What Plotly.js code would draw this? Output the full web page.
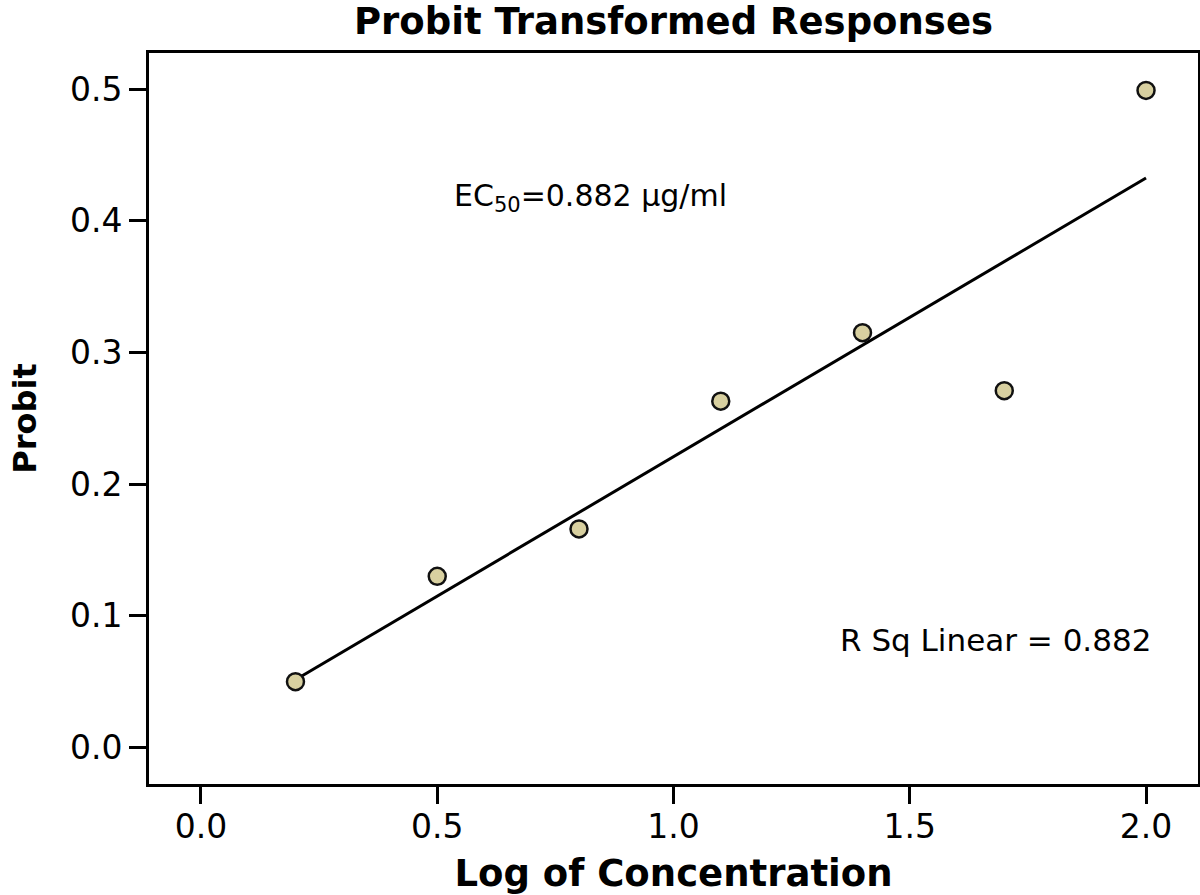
<!DOCTYPE html>
<html>
<head>
<meta charset="utf-8">
<script src="https://cdn.plot.ly/plotly-3.0.1.min.js"></script>
<style>html,body{margin:0;padding:0;background:#fff;}#chart{width:1200px;height:895px;}</style>
</head>
<body>
<div id="chart"></div>
<script>
const logConc = [0.2, 0.5, 0.8, 1.1, 1.4, 1.7, 2.0];
const probit = [0.050, 0.130, 0.166, 0.263, 0.315, 0.271, 0.499];
const xTicks = [0.0, 0.5, 1.0, 1.5, 2.0];
const yTicks = [0.0, 0.1, 0.2, 0.3, 0.4, 0.5];
const ec50Label = 'EC<sub>50</sub>=0.882 µg/ml';
const rsqLabel = 'R Sq Linear = 0.882';

// least-squares fit line computed from the data
const n = logConc.length;
const mx = logConc.reduce((a,b)=>a+b,0)/n;
const my = probit.reduce((a,b)=>a+b,0)/n;
let sxy = 0, sxx = 0;
for (let i=0;i<n;i++){ sxy += (logConc[i]-mx)*(probit[i]-my); sxx += (logConc[i]-mx)**2; }
const slope = sxy/sxx, icpt = my - slope*mx;
const fitX = [Math.min(...logConc), Math.max(...logConc)];
const fitY = fitX.map(x => icpt + slope*x);

const font = 'DejaVu Sans, Liberation Sans, Arial, sans-serif';
const traces = [
  {x: fitX, y: fitY, mode: 'lines', line: {color: '#000', width: 3}, hoverinfo: 'skip', showlegend: false},
  {x: logConc, y: probit, mode: 'markers', showlegend: false,
   marker: {size: 17, color: '#d8d0a0', line: {color: '#111', width: 2.5}}}
];
const axisCommon = {
  showline: true, mirror: true, linecolor: '#000', linewidth: 3,
  ticks: 'outside', ticklen: 17, tickwidth: 3, tickcolor: '#000',
  showgrid: false, zeroline: false,
  tickfont: {family: font, size: 33, color: '#000'}
};
const layout = {
  width: 1200, height: 895,
  margin: {l: 149, r: 2, t: 53, b: 111},
  paper_bgcolor: '#fff', plot_bgcolor: '#fff',
  title: {text: '<b>Probit Transformed Responses</b>', font: {family: font, size: 37, color: '#000'},
          x: 0.5, xref: 'paper', y: 0.977, yanchor: 'middle'},
  xaxis: Object.assign({}, axisCommon, {
    range: [-0.11, 2.11], tickvals: xTicks, ticktext: xTicks.map(v=>v.toFixed(1)),
    ticklabelstandoff: -6,
    title: {text: '<b>Log of Concentration</b>', font: {family: font, size: 37, color: '#000'}, standoff: 20}
  }),
  yaxis: Object.assign({}, axisCommon, {
    range: [-0.0277, 0.5274], tickvals: yTicks, ticktext: yTicks.map(v=>v.toFixed(1)),
    title: {text: '<b>Probit</b>', font: {family: font, size: 32, color: '#000'}, standoff: 24}
  }),
  annotations: [
    {x: 0.531, y: 0.418, xref: 'x', yref: 'y', text: ec50Label, showarrow: false,
     xanchor: 'left', yanchor: 'middle', font: {family: font, size: 30, color: '#000'}},
    {x: 2.015, y: 0.0817, xref: 'x', yref: 'y', text: rsqLabel, showarrow: false,
     xanchor: 'right', yanchor: 'middle', font: {family: font, size: 31, color: '#000'}}
  ]
};
Plotly.newPlot('chart', traces, layout, {displayModeBar: false, staticPlot: true});
</script>
</body>
</html>
